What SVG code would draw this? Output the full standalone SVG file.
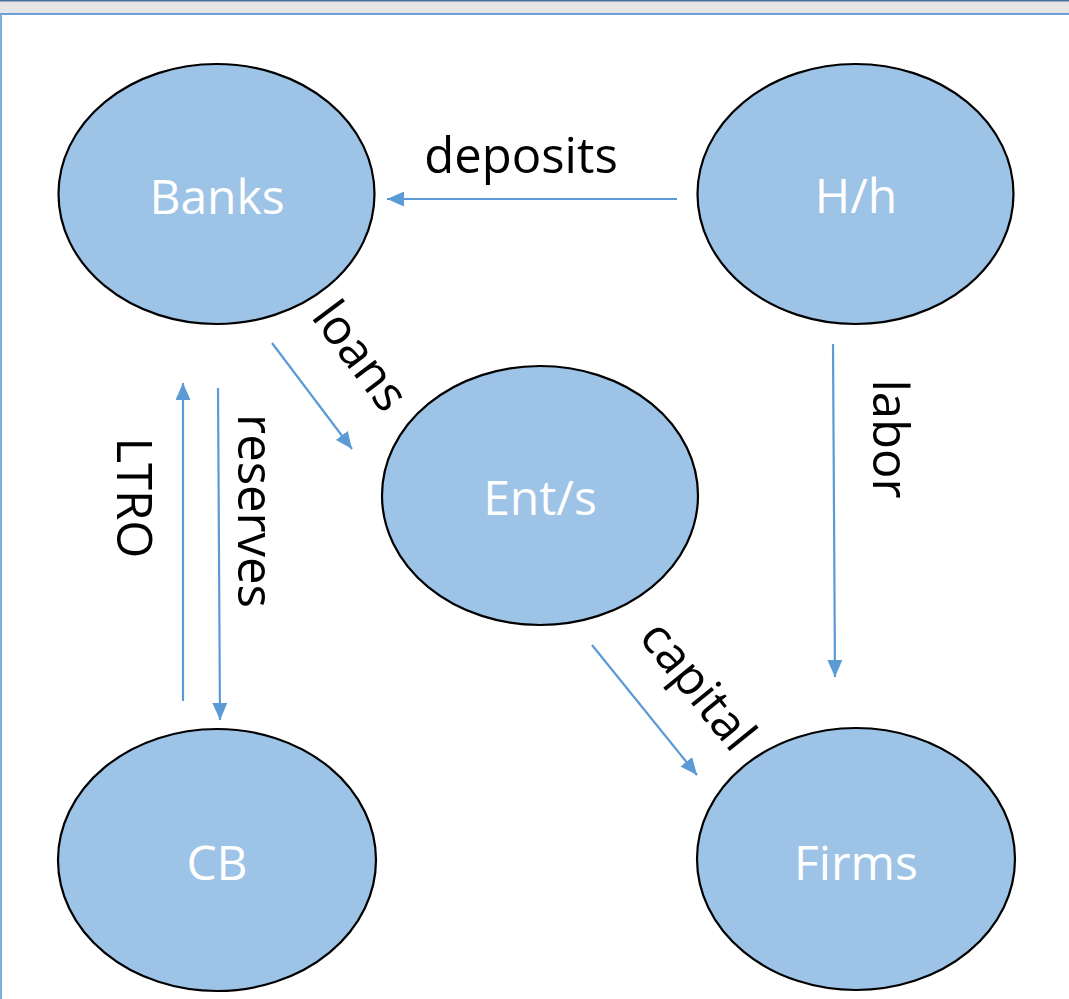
<svg xmlns="http://www.w3.org/2000/svg" width="1069" height="999" viewBox="0 0 1069 999">
<style>
.node{fill:#9DC3E6;stroke:#000;stroke-width:2.2}
.nt{font-family:"Open Sans","Noto Sans",sans-serif;font-size:48px;fill:#fff;text-anchor:middle}
.lb{font-family:"Open Sans","Noto Sans",sans-serif;font-size:49px;fill:#000;text-anchor:middle}
.edge{stroke:#5B9BD5;stroke-width:2.2;fill:none;marker-end:url(#ah)}
</style>
<defs>
<marker id="ah" markerUnits="userSpaceOnUse" markerWidth="17" markerHeight="15" refX="17" refY="7.5" orient="auto">
<path d="M0,0 L17,7.5 L0,15 Z" fill="#5B9BD5"/>
</marker>
</defs>
<rect x="0" y="0" width="1069" height="999" fill="#fff"/>
<rect x="0" y="0" width="1069" height="14" fill="#E6E6E6"/>
<rect x="0" y="0" width="1069" height="1.5" fill="#4A6F9E"/>
<rect x="0" y="13" width="1069" height="2" fill="#6A9FD8"/>
<rect x="0" y="14" width="2" height="985" fill="#7FAEE0"/>
<g id="connectors">
<line class="edge" x1="677" y1="199" x2="387" y2="199"/>
<line class="edge" x1="272" y1="343" x2="352" y2="449"/>
<line class="edge" x1="183" y1="701" x2="183" y2="383"/>
<line class="edge" x1="218" y1="388" x2="220" y2="720"/>
<line class="edge" x1="833" y1="344" x2="835" y2="677"/>
<line class="edge" x1="592" y1="645" x2="697" y2="775"/>
<text class="lb" x="521" y="173">deposits</text>
<text class="lb" x="347" y="366" transform="rotate(53 347 366)">loans</text>
<text class="lb" x="117" y="498" transform="rotate(90 117 498)">LTRO</text>
<text class="lb" x="238" y="511" transform="rotate(90 238 511)">reserves</text>
<text class="lb" x="873" y="439" transform="rotate(90 873 439)">labor</text>
<text class="lb" x="685" y="696" transform="rotate(51 685 696)">capital</text>
</g>
<g id="banks"><ellipse class="node" cx="216.5" cy="194" rx="158" ry="130"/><text class="nt" x="217" y="214">Banks</text></g>
<g id="hh"><ellipse class="node" cx="855.5" cy="194" rx="158" ry="130"/><text class="nt" x="856" y="213">H/h</text></g>
<g id="ents"><ellipse class="node" cx="540" cy="495.5" rx="158" ry="129.5"/><text class="nt" x="540" y="515">Ent/s</text></g>
<g id="cb"><ellipse class="node" cx="217" cy="860" rx="159" ry="131"/><text class="nt" x="217" y="880">CB</text></g>
<g id="firms"><ellipse class="node" cx="856" cy="859" rx="159" ry="131"/><text class="nt" x="856" y="880">Firms</text></g>
</svg>
